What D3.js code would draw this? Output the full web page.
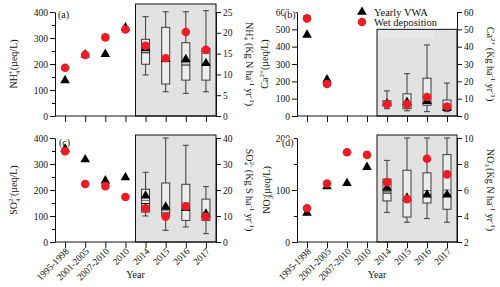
<!DOCTYPE html>
<html>
<head>
<meta charset="utf-8">
<script src="https://cdn.jsdelivr.net/npm/d3@7"></script>
<style>
  body { margin: 0; background: #fff; }
  svg { font-family: "Liberation Serif", "DejaVu Serif", serif; }
</style>
</head>
<body>
<div id="chart"></div>
<script>
// categories
const years = ["1995-1998", "2001-2005", "2007-2010", "2010", "2014", "2015", "2016", "2017"];

// (a) NH4+  : VWA in µeq/L, wet deposition in kg N/ha/yr
const nh4Vwa = [137, 236, 238, 340, 260, 218, 218, 203];
const nh4Wet = [11.6, 14.7, 18.9, 20.8, 16.9, 13.9, 20.2, 15.9];
// box stats 2014-2017: [whisker low, q1, median, mean, q3, whisker high]
const nh4Box = [
  [158, 199, 243, 254, 295, 382],
  [93, 123, 213, 215, 341, 401],
  [87, 138, 196, 205, 282, 401],
  [93, 138, 200, 241, 260, 405]
];

// (b) Ca2+
const caVwa = [468, 210, null, null, 72, 80, 85, 45];
const caWet = [56.3, 18.5, null, null, 6.8, 6.8, 11.0, 5.5];
const caBox = [
  [42, 62, 70, 75, 88, 145],
  [30, 42, 80, 85, 128, 244],
  [25, 62, 72, 80, 218, 410],
  [25, 35, 45, 50, 92, 190]
];

// (c) SO4 2-
const so4Vwa = [358, 317, 236, 248, 178, 135, 130, 108];
const so4Wet = [34.9, 22.3, 21.5, 17.3, 13.0, 9.7, 13.7, 9.7];
const so4Box = [
  [100, 115, 148, 160, 203, 268],
  [45, 100, 112, 122, 227, 400],
  [58, 83, 123, 150, 222, 372],
  [32, 83, 105, 112, 165, 213]
];

// (d) NO3-
const no3Vwa = [56, 107, 113, 144, 104, 85, 91, 91];
const no3Wet = [4.6, 6.5, 8.9, 8.7, 6.6, 5.3, 8.4, 7.2];
const no3Box = [
  [57, 79, 94, 97, 121, 157],
  [38, 48, 85, 85, 138, 200],
  [45, 75, 91, 99, 133, 200],
  [38, 63, 91, 100, 168, 200]
];

const legendLabels = ["Yearly VWA", "Wet deposition"];

const width = 500, height = 287;
const red = "#ed1c24";

const svg = d3.select("#chart").append("svg")
  .attr("width", width)
  .attr("height", height);

// title pieces: [text, "sub"|"sup"|null, dx]
function addTitle(x, y, rot, parts) {
  const t = svg.append("text")
    .attr("transform", `translate(${x},${y}) rotate(${rot})`)
    .attr("text-anchor", "middle")
    .attr("font-size", 10)
    .attr("fill", "#111");
  let shift = 0;
  parts.forEach(([s, kind, dx]) => {
    let target = kind === "sub" ? 2.5 : kind === "sup" ? -4 : 0;
    const ts = t.append("tspan").text(s)
      .attr("dy", target - shift)
      .attr("font-size", kind ? 7 : 10);
    if (dx) ts.attr("dx", dx);
    shift = target;
  });
}

const panels = [
  { label: "(a)", lab: [58, 18], vwa: nh4Vwa, wet: nh4Wet, box: nh4Box,
    x0: 55, x1: 216, y0: 12, y1: 116, left: [0, 400], right: [0, 25], grayTop: 4,
    lTicks: d3.range(0, 401, 100), lMinor: d3.range(50, 400, 100), rTicks: d3.range(0, 26, 5),
    lTitle: [17, [["NH"], ["4", "sub"], ["+", "sup", -3.5], ["(µeq/L)"]]],
    rTitle: [246, [["NH"], ["4", "sub"], ["+", "sup", -3.5], [" (Kg N ha"], ["-1", "sup"], [" yr"], ["-1", "sup"], [")"]]] },
  { label: "(b)", lab: [284, 18], vwa: caVwa, wet: caWet, box: caBox,
    x0: 297, x1: 457, y0: 12, y1: 116, left: [0, 600], right: [0, 60], grayTop: null,
    lTicks: d3.range(0, 601, 100), lMinor: [], rTicks: d3.range(0, 61, 10),
    lTitle: [268, [["Ca"], ["2+", "sup"], ["(µeq/L)"]]],
    rTitle: [487, [["Ca"], ["2+", "sup"], [" (Kg ha"], ["-1", "sup"], [" yr"], ["-1", "sup"], [")"]]] },
  { label: "(c)", lab: [59, 146], vwa: so4Vwa, wet: so4Wet, box: so4Box,
    x0: 55, x1: 216, y0: 138, y1: 242, left: [0, 400], right: [0, 40], grayTop: 135,
    lTicks: d3.range(0, 401, 100), lMinor: d3.range(50, 400, 100), rTicks: d3.range(0, 41, 10),
    lTitle: [17, [["SO"], ["4", "sub"], ["2-", "sup", -3.5], ["(µeq/L)"]]],
    rTitle: [246, [["SO"], ["4", "sub"], ["2-", "sup", -3.5], [" (Kg S ha"], ["-1", "sup"], [" yr"], ["-1", "sup"], [")"]]] },
  { label: "(d)", lab: [282, 146], vwa: no3Vwa, wet: no3Wet, box: no3Box,
    x0: 297, x1: 457, y0: 138, y1: 242, left: [0, 200], right: [2, 10], grayTop: 135,
    lTicks: [0, 100, 200], lMinor: [50, 150], rTicks: d3.range(2, 11, 2),
    lTitle: [270, [["NO"], ["3", "sub"], ["-", "sup", -3.5], ["(µeq/L)"]]],
    rTitle: [487, [["NO"], ["3", "sub"], ["-", "sup", -3.5], [" (Kg N ha"], ["-1", "sup"], [" yr"], ["-1", "sup"], [")"]]] }
];

panels.forEach((p, i) => {
  const bottomRow = i >= 2;
  const x = d3.scalePoint().domain(years).range([p.x0, p.x1]).padding(0.5);
  const yL = d3.scaleLinear().domain(p.left).range([p.y1, p.y0]);
  const yR = d3.scaleLinear().domain(p.right).range([p.y1, p.y0]);
  const step = x.step();

  // shaded period (2014-2017)
  const gx = x("2010") + step / 2;
  const gTop = p.grayTop === null ? yL(500) : p.grayTop;
  svg.append("rect")
    .attr("x", gx).attr("y", gTop)
    .attr("width", p.x1 - gx).attr("height", p.y1 - gTop)
    .attr("fill", "#e2e2e2")
    .attr("stroke", "#111").attr("stroke-width", 1);
  if (p.grayTop === null) {
    // faint lighter band left by the legend box
    svg.append("rect")
      .attr("x", gx + 1).attr("y", gTop + 1)
      .attr("width", 55).attr("height", 8)
      .attr("fill", "#e9e9e9");
  }

  // box plots
  const boxW = 8, capW = 6;
  p.box.forEach((b, j) => {
    const cx = x(years[4 + j]);
    const [lo, q1, med, mean, q3, hi] = b;
    const g = svg.append("g").attr("stroke", "#3a3a3a").attr("stroke-width", 1);
    g.append("line").attr("x1", cx).attr("x2", cx).attr("y1", yL(hi)).attr("y2", yL(q3));
    g.append("line").attr("x1", cx).attr("x2", cx).attr("y1", yL(q1)).attr("y2", yL(lo));
    g.append("line").attr("x1", cx - capW / 2).attr("x2", cx + capW / 2).attr("y1", yL(hi)).attr("y2", yL(hi));
    g.append("line").attr("x1", cx - capW / 2).attr("x2", cx + capW / 2).attr("y1", yL(lo)).attr("y2", yL(lo));
    g.append("rect").attr("x", cx - boxW / 2).attr("y", yL(q3))
      .attr("width", boxW).attr("height", yL(q1) - yL(q3))
      .attr("fill", "#ededed");
    g.append("line").attr("x1", cx - boxW / 2).attr("x2", cx + boxW / 2)
      .attr("y1", yL(med)).attr("y2", yL(med)).attr("stroke", "#111");
    g.append("line").attr("x1", cx - boxW / 2).attr("x2", cx + boxW / 2)
      .attr("y1", yL(mean)).attr("y2", yL(mean)).attr("stroke", "#666");
  });

  // yearly VWA triangles
  const tri = d3.symbol().type(d3.symbolTriangle).size(40);
  svg.append("g").selectAll("path")
    .data(years.map((yr, j) => [yr, p.vwa[j]]).filter(d => d[1] !== null))
    .join("path")
    .attr("d", tri)
    .attr("transform", d => `translate(${x(d[0])},${yL(d[1])})`)
    .attr("fill", "#000");

  // wet deposition circles
  svg.append("g").selectAll("circle")
    .data(years.map((yr, j) => [yr, p.wet[j]]).filter(d => d[1] !== null))
    .join("circle")
    .attr("cx", d => x(d[0]))
    .attr("cy", d => yR(d[1]))
    .attr("r", 4.3)
    .attr("fill", red);

  // axes
  const axL = svg.append("g").attr("transform", `translate(${p.x0},0)`)
    .call(d3.axisLeft(yL).tickValues(p.lTicks).tickSize(5).tickSizeOuter(0));
  svg.append("g").attr("transform", `translate(${p.x0},0)`)
    .call(d3.axisLeft(yL).tickValues(p.lMinor).tickSize(3).tickFormat(""))
    .select(".domain").remove();
  const axR = svg.append("g").attr("transform", `translate(${p.x1},0)`)
    .call(d3.axisRight(yR).tickValues(p.rTicks).tickSize(5).tickSizeOuter(0));
  const axB = svg.append("g").attr("transform", `translate(0,${p.y1})`)
    .call(d3.axisBottom(x).tickSize(6).tickSizeOuter(0)
      .tickFormat(bottomRow ? (d => d) : () => ""));

  [axL, axR, axB].forEach(a => {
    a.attr("font-family", null).attr("font-size", 9.5);
    a.selectAll("path,line").attr("stroke", "#111");
    a.selectAll("text").attr("fill", "#111");
  });
  axL.selectAll("text").attr("x", -7);
  axR.selectAll("text").attr("x", 7);
  axB.select(".domain").attr("d", `M${p.x0},0H${p.x1}`);
  if (bottomRow) {
    axB.selectAll("text")
      .attr("x", null).attr("y", null).attr("dy", null)
      .attr("transform", "translate(4,10) rotate(-45)")
      .attr("text-anchor", "end");
    svg.append("text")
      .attr("x", (p.x0 + p.x1) / 2).attr("y", 278)
      .attr("text-anchor", "middle").attr("font-size", 10).attr("fill", "#111")
      .text("Year");
  }

  // panel letter, drawn over the top tick label as in the original
  const lt = svg.append("text").attr("x", p.lab[0]).attr("y", p.lab[1])
    .attr("font-size", 10).attr("fill", "#111").text(p.label);
  if (p.lab[0] < p.x0) {
    const bb = lt.node().getBBox();
    svg.insert("rect", () => lt.node())
      .attr("x", bb.x).attr("y", bb.y + 1)
      .attr("width", bb.width).attr("height", bb.height - 2)
      .attr("fill", "#fff");
  }

  // axis titles
  const cy = (p.y0 + p.y1) / 2;
  addTitle(p.lTitle[0], cy, -90, p.lTitle[1]);
  addTitle(p.rTitle[0], cy, 90, p.rTitle[1]);
});

// legend (inside panel b)
const lg = svg.append("g").attr("transform", "translate(362,0)");
lg.append("path").attr("d", d3.symbol().type(d3.symbolTriangle).size(40))
  .attr("transform", "translate(0,12)").attr("fill", "#000");
lg.append("circle").attr("cx", 0).attr("cy", 22).attr("r", 4.3).attr("fill", red);
lg.selectAll("text.lbl").data(legendLabels).join("text")
  .attr("class", "lbl")
  .attr("x", 12).attr("y", (d, k) => 15.5 + k * 10)
  .attr("font-size", 10.5).attr("fill", "#111")
  .text(d => d);
</script>
</body>
</html>
